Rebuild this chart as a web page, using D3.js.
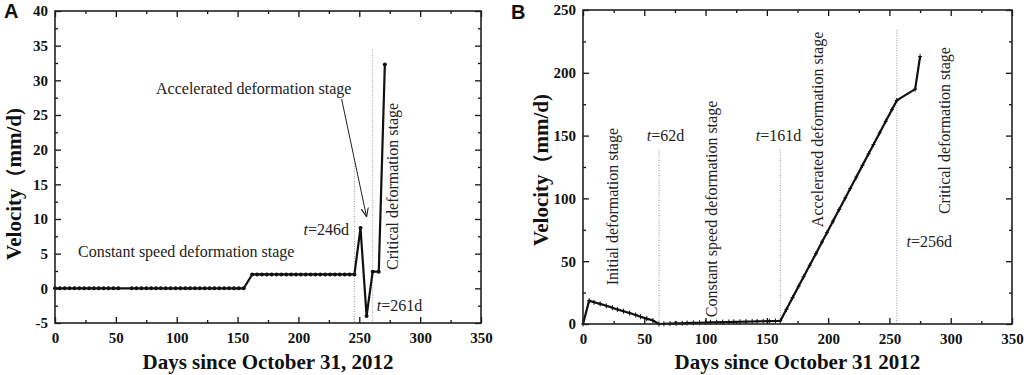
<!DOCTYPE html>
<html>
<head>
<meta charset="utf-8">
<script src="https://cdn.jsdelivr.net/npm/d3@7"></script>
<style>
  body { margin: 0; background: #fff; }
  svg { display: block; }
</style>
</head>
<body>
<div id="chart"></div>
<script>
// ---- data ----
// panel A
var daysA = [0, 4, 8, 12, 16, 20, 24, 28, 32, 36, 40, 44, 48, 52,
    63, 67, 71, 75, 79, 83, 87, 91, 95, 99, 103, 107, 111, 115, 119, 123, 127, 131, 135, 139, 143, 147, 151, 155,
    162, 166, 170, 174, 178, 182, 186, 190, 194, 198, 202, 206, 210, 214, 218, 222, 226, 230, 234, 238, 242, 246,
    251, 256, 261, 266, 271];
var velA = [0, 0, 0, 0, 0, 0, 0, 0, 0, 0, 0, 0, 0, 0,
    0, 0, 0, 0, 0, 0, 0, 0, 0, 0, 0, 0, 0, 0, 0, 0, 0, 0, 0, 0, 0, 0, 0, 0,
    2, 2, 2, 2, 2, 2, 2, 2, 2, 2, 2, 2, 2, 2, 2, 2, 2, 2, 2, 2, 2, 2,
    8.7, -4, 2.4, 2.4, 32.3];
// panel B
var daysB = [0, 5, 9, 14, 19, 24, 28, 33, 38, 43, 47, 52, 57, 62,
    66, 71, 76, 81, 85, 90, 95, 100, 104, 109, 114, 119, 123, 128, 133, 138, 142, 147, 152, 157, 161,
    166, 171, 176, 180, 185, 190, 195, 199, 204, 209, 214, 218, 223, 228, 233, 237, 242, 247, 252, 256,
    271, 275];
var velB = [0, 18.6, 17.3, 16, 14.5, 13, 11.6, 10.2, 8.7, 7.2, 5.8, 4.3, 2.8, 0,
    0.2, 0.3, 0.5, 0.6, 0.8, 0.9, 1.0, 1.2, 1.3, 1.4, 1.5, 1.6, 1.7, 1.8, 1.9, 2.0, 2.1, 2.2, 2.3, 2.4, 2.5,
    11.7, 21, 30.2, 37.6, 46.8, 56, 65.3, 72.7, 81.9, 91.2, 100.4, 107.8, 117, 126.3, 135.5, 142.9, 152.1, 161.4, 170.6, 178,
    187, 213];

var xTicks = [0, 50, 100, 150, 200, 250, 300, 350];
var xMinor = [25, 75, 125, 175, 225, 275, 325];
var yTicksA = [-5, 0, 5, 10, 15, 20, 25, 30, 35, 40];
var yMinorA = [-2.5, 2.5, 7.5, 12.5, 17.5, 22.5, 27.5, 32.5, 37.5];
var yTicksB = [0, 50, 100, 150, 200, 250];
var yMinorB = [25, 75, 125, 175, 225];

var yTitle = "Velocity（mm/d)";
var xTitleA = "Days since October 31, 2012";
var xTitleB = "Days since October 31 2012";

var SERIF = "'Liberation Serif', 'Times New Roman', serif";
var SANS = "'Liberation Sans', Arial, sans-serif";

var svg = d3.select("#chart").append("svg")
    .attr("width", 1024).attr("height", 375);

// frame with inward ticks on all four sides
function frame(x, y, yT, yM) {
    var x0 = x.range()[0], x1 = x.range()[1];
    var y0 = y.range()[0], y1 = y.range()[1];
    var g = svg.append("g");
    function ax(gen, scale, vals, size, tx, ty, labels, pad) {
        var a = gen(scale).tickValues(vals).tickSizeInner(size).tickSizeOuter(0)
            .tickPadding(pad || 3);
        if (labels) a.tickFormat(function(d) { return String(d); });
        else a.tickFormat("");
        var s = g.append("g").attr("transform", "translate(" + tx + "," + ty + ")").call(a);
        s.select(".domain").remove();
        s.selectAll("line").attr("stroke", "#111").attr("stroke-width", 1.3);
        return s;
    }
    ax(d3.axisBottom, x, xTicks, -6, 0, y0, true, 9);
    ax(d3.axisBottom, x, xMinor, -3, 0, y0);
    ax(d3.axisTop, x, xTicks, -6, 0, y1);
    ax(d3.axisTop, x, xMinor, -3, 0, y1);
    ax(d3.axisLeft, y, yT, -6, x0, 0, true, 7);
    ax(d3.axisLeft, y, yM, -3, x0, 0);
    ax(d3.axisRight, y, yT, -6, x1, 0);
    ax(d3.axisRight, y, yM, -3, x1, 0);
    g.selectAll(".tick text").attr("fill", "#111")
        .style("font-family", SERIF).style("font-weight", "bold").style("font-size", "15px");
    g.append("rect").attr("x", x0).attr("y", y1)
        .attr("width", x1 - x0).attr("height", y0 - y1)
        .attr("fill", "none").attr("stroke", "#222").attr("stroke-width", 1.6);
}

function vline(x, y, d, top, bottom) {
    svg.append("line")
        .attr("x1", x(d)).attr("x2", x(d))
        .attr("y1", y(top)).attr("y2", y(bottom))
        .attr("stroke", "#999").attr("stroke-width", 1)
        .attr("stroke-dasharray", "1,1.5");
}

function note(x, y, d, v, txt, anchor, rotate) {
    var t = svg.append("text")
        .style("font-family", SERIF).style("font-size", "16px")
        .attr("fill", "#222")
        .attr("text-anchor", anchor || "start");
    if (rotate) {
        t.attr("transform", "translate(" + x(d) + "," + y(v) + ") rotate(-90)");
    } else {
        t.attr("x", x(d)).attr("y", y(v));
    }
    if (txt.indexOf("t=") === 0) {
        t.append("tspan").style("font-style", "italic").text("t");
        t.append("tspan").text(txt.slice(1));
    } else {
        t.text(txt);
    }
}

function titles(x, y, xt, cxTitle, cyTitle) {
    var x0 = x.range()[0], x1 = x.range()[1];
    svg.append("text").attr("x", (x0 + x1) / 2).attr("y", 369)
        .attr("text-anchor", "middle")
        .style("font-family", SERIF).style("font-weight", "bold").style("font-size", "21px")
        .attr("fill", "#111").text(xt);
    svg.append("text")
        .attr("transform", "translate(" + cxTitle + "," + cyTitle + ") rotate(-90)")
        .attr("text-anchor", "middle")
        .style("font-family", SERIF).style("font-weight", "bold").style("font-size", "21px")
        .attr("fill", "#111").text(yTitle);
}

// ---- panel A ----
var xA = d3.scaleLinear().domain([0, 350]).range([55, 481]);
var yA = d3.scaleLinear().domain([-5, 40]).range([323, 11]);

vline(xA, yA, 246, 18, -5);
vline(xA, yA, 261, 34.4, -5);

var ptsA = daysA.map(function(d, i) { return {d: d, v: velA[i]}; });
var lineA = d3.line().x(function(p) { return xA(p.d); }).y(function(p) { return yA(p.v); });
svg.append("path").datum(ptsA).attr("d", lineA)
    .attr("fill", "none").attr("stroke", "#111").attr("stroke-width", 2.2)
    .attr("stroke-linejoin", "round");
svg.append("g").selectAll("circle").data(ptsA).enter().append("circle")
    .attr("cx", function(p) { return xA(p.d); })
    .attr("cy", function(p) { return yA(p.v); })
    .attr("r", 2).attr("fill", "#111");

frame(xA, yA, yTicksA, yMinorA);
titles(xA, yA, xTitleA, 21, 184);

svg.append("defs").append("marker").attr("id", "arr")
    .attr("viewBox", "0 0 10 10").attr("refX", 10).attr("refY", 5)
    .attr("markerWidth", 9).attr("markerHeight", 9).attr("orient", "auto")
    .attr("markerUnits", "userSpaceOnUse")
    .append("path").attr("d", "M0,1 L10,5 L0,9").attr("fill", "none")
    .attr("stroke", "#222").attr("stroke-width", 1.2);
svg.append("line")
    .attr("x1", xA(235.5)).attr("y1", yA(27.3))
    .attr("x2", xA(256)).attr("y2", yA(10.3))
    .attr("stroke", "#222").attr("stroke-width", 1)
    .attr("marker-end", "url(#arr)");

note(xA, yA, 83, 28, "Accelerated deformation stage");
note(xA, yA, 18.9, 4.5, "Constant speed deformation stage");
note(xA, yA, 241.6, 7.7, "t=246d", "end");
note(xA, yA, 264.3, -3.2, "t=261d");
note(xA, yA, 281.8, 14.7, "Critical deformation stage", "middle", true);

// ---- panel B ----
var xB = d3.scaleLinear().domain([0, 350]).range([583, 1012]);
var yB = d3.scaleLinear().domain([0, 250]).range([324, 10]);

vline(xB, yB, 62, 138.5, 0);
vline(xB, yB, 161, 138.5, 0);
vline(xB, yB, 256, 234, 0);

var ptsB = daysB.map(function(d, i) { return {d: d, v: velB[i]}; });
var lineB = d3.line().x(function(p) { return xB(p.d); }).y(function(p) { return yB(p.v); });
svg.append("path").datum(ptsB).attr("d", lineB)
    .attr("fill", "none").attr("stroke", "#111").attr("stroke-width", 2.2)
    .attr("stroke-linejoin", "round");
svg.append("g").selectAll("path.mk").data(ptsB).enter().append("path")
    .attr("class", "mk")
    .attr("d", function(p) {
        var cx = xB(p.d), cy = yB(p.v);
        return "M" + (cx - 2) + "," + cy + "H" + (cx + 2) + "M" + cx + "," + (cy - 2.5) + "V" + (cy + 2.5);
    })
    .attr("stroke", "#111").attr("stroke-width", 1);

frame(xB, yB, yTicksB, yMinorB);
titles(xB, yB, xTitleB, 548, 170);

note(xB, yB, 28.6, 93.5, "Initial deformation stage", "middle", true);
note(xB, yB, 52, 145.7, "t=62d");
note(xB, yB, 109, 91.6, "Constant speed deformation stage", "middle", true);
note(xB, yB, 141, 145.7, "t=161d");
note(xB, yB, 196, 154.9, "Accelerated deformation stage", "middle", true);
note(xB, yB, 299.6, 154, "Critical deformation stage", "middle", true);
note(xB, yB, 264, 61.5, "t=256d");

// panel letters
svg.append("text").attr("x", 4).attr("y", 18)
    .style("font-family", SANS).style("font-weight", "bold").style("font-size", "20px")
    .attr("fill", "#111").text("A");
svg.append("text").attr("x", 511).attr("y", 19)
    .style("font-family", SANS).style("font-weight", "bold").style("font-size", "20px")
    .attr("fill", "#111").text("B");
</script>
</body>
</html>
